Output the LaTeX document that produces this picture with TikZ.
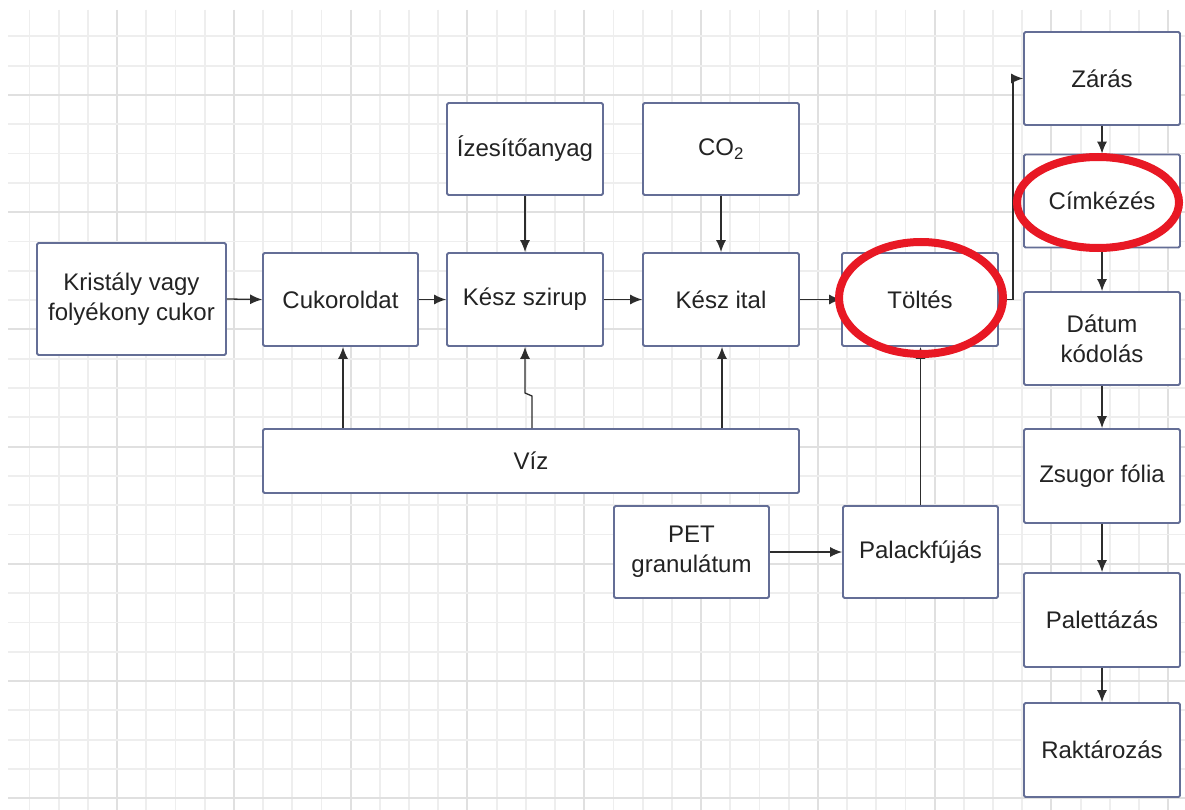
\documentclass[tikz,border=0pt]{standalone}
\usepackage{fontspec}
\setmainfont{Liberation Sans}
\usetikzlibrary{arrows.meta}
\definecolor{boxc}{RGB}{100,110,150}
\definecolor{txt}{RGB}{35,35,35}
\definecolor{gmin}{RGB}{238,238,238}
\definecolor{gmaj}{RGB}{224,224,224}
\definecolor{redc}{RGB}{232,24,36}
\definecolor{arr}{RGB}{45,45,45}
\begin{document}
\begin{tikzpicture}[x=1pt,y=-1pt,
 box/.style={draw=boxc,line width=1.8pt,fill=white,rounded corners=1.5pt,inner sep=0pt,align=center,text=txt,font=\fontsize{24}{30}\selectfont},
 conn/.style={draw=arr,line width=1.3pt,-{Latex[length=12pt,width=10pt]}},
 hl/.style={draw=redc,line width=8pt}]
\useasboundingbox (0,0) rectangle (1185,810);
\fill[white] (0,0) rectangle (1185,810);
% grid
\begin{scope}
\clip (8,10) rectangle (1185,810);
\foreach \i in {0,...,40}{
  \pgfmathsetmacro{\xx}{0.2+29.2*\i}
  \pgfmathtruncatemacro{\m}{mod(\i,4)}
  \ifnum\m=0 \draw[gmaj,line width=2pt] (\xx,10) -- (\xx,810);
  \else \draw[gmin,line width=1.8pt] (\xx,10) -- (\xx,810); \fi
}
\foreach \i in {0,...,27}{
  \pgfmathsetmacro{\yy}{7.1+29.3*\i}
  \pgfmathtruncatemacro{\m}{mod(\i,4)}
  \ifnum\m=3 \draw[gmaj,line width=2pt] (8,\yy) -- (1185,\yy);
  \else \draw[gmin,line width=1.8pt] (8,\yy) -- (1185,\yy); \fi
}
\end{scope}
% boxes
\node[box,minimum width=189pt,minimum height=112pt] (kris) at (131.5,299) {Kristály vagy\\folyékony cukor};
\node[box,minimum width=155pt,minimum height=93pt] (cuk) at (340.5,299.5) {Cukoroldat};
\node[box,minimum width=156pt,minimum height=93pt] (szir) at (525,299.5) {Kész szirup};
\node[box,minimum width=156pt,minimum height=93pt] (ital) at (721,299.5) {Kész ital};
\node[box,minimum width=156pt,minimum height=93pt] (tolt) at (920,299.5) {Töltés};
\node[box,minimum width=156pt,minimum height=92pt] (izes) at (525,149) {Ízesítőanyag};
\node[box,minimum width=156pt,minimum height=92pt] (co2) at (721,149) {CO\textsubscript{2}};
\node[box,minimum width=536pt,minimum height=64pt] (viz) at (531,461) {Víz};
\node[box,minimum width=155pt,minimum height=92pt] (pet) at (691.5,552) {PET\\granulátum};
\node[box,minimum width=155pt,minimum height=92pt] (pal) at (920.5,552) {Palackfújás};
\node[box,minimum width=156pt,minimum height=93pt] (zar) at (1102,78.5) {Zárás};
\node[box,minimum width=156pt,minimum height=93pt] (cim) at (1102,201) {Címkézés};
\node[box,minimum width=156pt,minimum height=93pt] (dat) at (1102,338.5) {Dátum\\kódolás};
\node[box,minimum width=156pt,minimum height=94pt] (zsu) at (1102,476) {Zsugor fólia};
\node[box,minimum width=156pt,minimum height=94pt] (pale) at (1102,620) {Palettázás};
\node[box,minimum width=156pt,minimum height=94pt] (rakt) at (1102,750) {Raktározás};
% connectors
\draw[conn] (kris.east) -- (cuk.west);
\draw[conn] (cuk.east) -- (szir.west);
\draw[conn] (szir.east) -- (ital.west);
\draw[conn] (ital.east) -- (tolt.west);
\draw[conn] (izes.south) -- (szir.north);
\draw[conn] (co2.south) -- (ital.north);
\draw[conn] (viz.north -| 343,0) -- (cuk.south -| 343,0);
\draw[conn] (viz.north -| 532,0) -- (532,396) -- (525,393) -- (szir.south -| 525,0);
\draw[conn] (viz.north -| 722,0) -- (ital.south -| 722,0);
\draw[conn] (pet.east) -- (pal.west);
\draw[conn] (pal.north) -- (tolt.south -| pal.north);
\draw[conn] (tolt.east) -- ++(14,0) |- (zar.west);
\draw[conn] (zar.south) -- (cim.north);
\draw[conn] (cim.south) -- (dat.north);
\draw[conn] (dat.south) -- (zsu.north);
\draw[conn] (zsu.south) -- (pale.north);
\draw[conn] (pale.south) -- (rakt.north);
% red highlights
\draw[hl] (921,298) ellipse [x radius=82, y radius=56];
\draw[hl] (1098,202.5) ellipse [x radius=81, y radius=45.5];
\end{tikzpicture}
\end{document}
